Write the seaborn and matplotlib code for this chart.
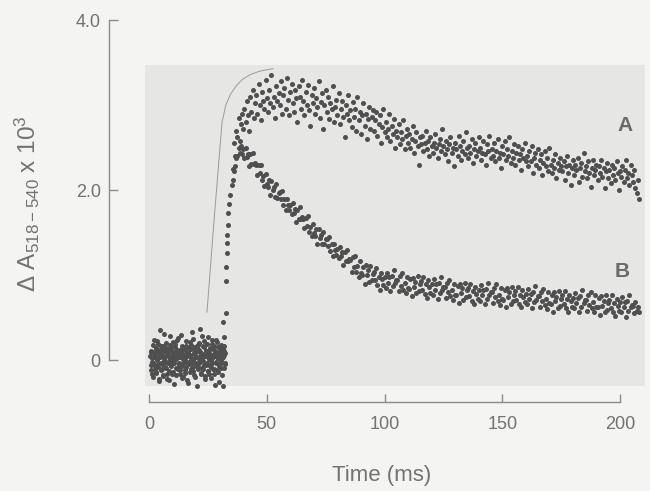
import numpy as np
import pandas as pd
import matplotlib
matplotlib.use("Agg")
import matplotlib.pyplot as plt
from matplotlib.patches import Rectangle
import seaborn as sns

# ---------------- data ----------------
# baseline before the flash, trace A (every 0.25 ms from 0.5 ms)
baseline_a = [
    0.05, -0.12, 0.10, -0.02, 0.18, -0.20, 0.03, 0.08, -0.07, 0.14,
    -0.15, 0.01, 0.22, -0.05, 0.09, -0.25, 0.12, 0.35, -0.03, 0.06,
    -0.10, 0.16, -0.18, 0.04, 0.00, -0.08, 0.20, 0.11, -0.22, 0.07,
    -0.04, 0.13, -0.13, 0.28, 0.02, -0.06, 0.15, -0.17, 0.09, -0.01,
    0.06, -0.28, 0.19, 0.03, -0.09, 0.10, 0.24, -0.11, 0.05, -0.03,
    0.12, -0.16, 0.08, 0.30, -0.07, 0.01, -0.20, 0.14, 0.04, -0.12,
    0.17, -0.02, 0.09, -0.24, 0.11, 0.06, -0.05, 0.21, -0.14, 0.02,
    0.13, -0.09, 0.25, 0.00, -0.18, 0.07, 0.15, -0.04, 0.10, -0.30,
    0.04, 0.18, -0.08, 0.12, -0.01, 0.36, -0.15, 0.08, 0.03, -0.11,
    0.16, -0.06, 0.22, -0.19, 0.05, 0.11, -0.03, 0.09, -0.13, 0.27,
    0.01, -0.07, 0.14, -0.21, 0.06, 0.19, -0.10, 0.04, 0.12, -0.16,
    0.08, -0.02, 0.23, -0.12, 0.03, 0.15, -0.26, 0.07, 0.10, -0.05,
    0.18, -0.09, 0.02, 0.13, -0.31, 0.06, 0.11, -0.04,
]
# baseline before the flash, trace B (every 0.25 ms from 0.625 ms)
baseline_b = [
    -0.06, 0.11, -0.17, 0.02, 0.09, -0.03, 0.24, -0.10, 0.05, -0.14,
    0.13, 0.00, -0.08, 0.19, -0.22, 0.07, 0.03, -0.12, 0.16, -0.05,
    0.08, -0.19, 0.12, 0.31, -0.02, 0.04, -0.09, 0.14, -0.16, 0.06,
    0.10, -0.01, -0.23, 0.18, 0.05, -0.07, 0.11, 0.02, -0.14, 0.21,
    -0.04, 0.08, 0.15, -0.18, 0.01, 0.12, -0.10, 0.26, -0.06, 0.03,
    -0.12, 0.09, 0.04, -0.21, 0.17, -0.03, 0.07, 0.13, -0.15, 0.00,
    0.22, -0.08, 0.05, -0.27, 0.10, 0.14, -0.02, 0.06, -0.11, 0.18,
    -0.05, 0.33, 0.01, -0.13, 0.08, -0.20, 0.12, 0.04, -0.07, 0.16,
    0.02, -0.10, 0.20, -0.04, 0.09, -0.16, 0.06, 0.28, -0.09, 0.03,
    -0.01, 0.15, -0.22, 0.07, 0.11, -0.06, 0.19, -0.13, 0.04, 0.08,
    -0.17, 0.13, 0.00, -0.08, 0.24, -0.03, 0.06, -0.11, 0.16, -0.29,
    0.05, 0.10, -0.04, 0.21, -0.14, 0.02, 0.09, -0.07, 0.14, -0.01,
    0.07, -0.18, 0.12, 0.03, -0.09, 0.17, -0.05, 0.08,
]

# rising phase (single dots)
rise_t = [31.6, 32.0, 32.6, 32.7, 32.7, 33.0, 33.1, 33.0, 33.5, 33.4, 34.1, 34.4, 35.1]
rise_v = [0.45, 0.27, 0.55, 0.93, 1.09, 1.26, 1.38, 1.47, 1.59, 1.73, 1.84, 1.94, 2.06]

# trace A, sampled every 0.5 ms from 35.5 ms
trace_a = [
    2.25, 2.55, 2.40, 2.70, 2.62, 2.85, 2.58, 2.78, 2.90, 2.72,
    2.95, 2.80, 3.05, 2.88, 2.70, 3.10, 2.92, 3.18, 2.85, 3.02,
    3.12, 2.90, 3.25, 3.00, 2.82, 3.15, 3.05, 2.95, 3.30, 3.08,
    2.92, 3.18, 3.02, 3.35, 2.98, 3.10, 2.85, 3.22, 3.05, 3.14,
    3.00, 3.28, 2.90, 3.12, 3.20, 2.95, 3.32, 3.06, 2.88, 3.15,
    3.25, 3.02, 2.92, 3.18, 3.08, 2.80, 3.22, 3.10, 2.96, 3.30,
    3.05, 2.88, 3.15, 3.00, 3.24, 2.94, 2.76, 3.12, 3.02, 3.20,
    2.90, 3.08, 2.98, 3.28, 2.85, 3.04, 3.14, 2.72, 3.00, 3.18,
    2.92, 3.10, 2.84, 3.02, 2.96, 3.22, 2.80, 2.98, 3.06, 2.88,
    3.14, 2.78, 2.95, 3.05, 2.86, 2.62, 3.00, 2.90, 3.12, 2.82,
    2.94, 2.74, 3.04, 2.86, 2.96, 2.70, 3.10, 2.82, 2.92, 2.66,
    2.88, 3.02, 2.76, 2.90, 2.60, 2.84, 2.98, 2.72, 2.86, 2.94,
    2.70, 2.82, 2.92, 2.64, 2.78, 2.88, 2.56, 2.74, 2.96, 2.68,
    2.80, 2.62, 2.72, 2.90, 2.58, 2.76, 2.66, 2.84, 2.50, 2.70,
    2.62, 2.78, 2.54, 2.68, 2.60, 2.82, 2.48, 2.64, 2.72, 2.56,
    2.66, 2.50, 2.60, 2.76, 2.44, 2.58, 2.68, 2.52, 2.30, 2.62,
    2.54, 2.64, 2.46, 2.56, 2.70, 2.48, 2.58, 2.40, 2.62, 2.52,
    2.44, 2.56, 2.66, 2.50, 2.38, 2.54, 2.60, 2.46, 2.72, 2.52,
    2.42, 2.58, 2.48, 2.34, 2.54, 2.62, 2.44, 2.50, 2.28, 2.56,
    2.48, 2.40, 2.64, 2.52, 2.36, 2.46, 2.58, 2.42, 2.68, 2.50,
    2.38, 2.52, 2.44, 2.60, 2.32, 2.48, 2.56, 2.40, 2.46, 2.62,
    2.50, 2.36, 2.44, 2.58, 2.42, 2.30, 2.54, 2.46, 2.64, 2.38,
    2.48, 2.40, 2.56, 2.34, 2.46, 2.60, 2.38, 2.44, 2.26, 2.52,
    2.42, 2.58, 2.36, 2.48, 2.40, 2.62, 2.32, 2.46, 2.38, 2.54,
    2.30, 2.44, 2.52, 2.36, 2.42, 2.24, 2.48, 2.38, 2.56, 2.34,
    2.40, 2.28, 2.46, 2.34, 2.52, 2.20, 2.38, 2.44, 2.30, 2.48,
    2.26, 2.36, 2.42, 2.18, 2.32, 2.46, 2.28, 2.38, 2.22, 2.50,
    2.30, 2.20, 2.36, 2.26, 2.42, 2.14, 2.32, 2.24, 2.38, 2.28,
    2.22, 2.34, 2.12, 2.28, 2.40, 2.20, 2.30, 2.06, 2.26, 2.36,
    2.18, 2.30, 2.24, 2.38, 2.10, 2.26, 2.32, 2.16, 2.44, 2.22,
    2.28, 2.14, 2.34, 2.20, 2.04, 2.26, 2.36, 2.18, 2.24, 2.30,
    2.12, 2.28, 2.20, 2.36, 2.16, 2.26, 2.02, 2.22, 2.32, 2.14,
    2.24, 2.08, 2.30, 2.18, 2.26, 2.12, 2.34, 2.20, 2.00, 2.22,
    2.16, 2.28, 2.10, 2.24, 2.36, 2.14, 2.20, 2.06, 2.30, 2.18,
    2.10, 2.24, 2.02, 1.96, 2.12, 1.90,
]

# trace B, sampled every 0.5 ms from 35.5 ms
trace_b = [
    2.12, 2.22, 2.28, 2.38, 2.40, 2.50, 2.44, 2.52, 2.42, 2.48,
    2.38, 2.50, 2.39, 2.43, 2.28, 2.42, 2.31, 2.44, 2.31, 2.32,
    2.30, 2.18, 2.30, 2.20, 2.30, 2.12, 2.17, 2.05, 2.19, 2.07,
    2.04, 2.12, 1.94, 2.11, 2.00, 2.04, 1.92, 2.07, 1.91, 1.97,
    1.98, 1.89, 1.99, 1.82, 1.89, 1.76, 1.90, 1.83, 1.76, 1.83,
    1.72, 1.85, 1.73, 1.78, 1.63, 1.77, 1.66, 1.80, 1.66, 1.68,
    1.66, 1.55, 1.67, 1.58, 1.69, 1.51, 1.57, 1.46, 1.60, 1.49,
    1.46, 1.54, 1.37, 1.54, 1.44, 1.47, 1.36, 1.51, 1.36, 1.42,
    1.43, 1.34, 1.45, 1.28, 1.36, 1.22, 1.37, 1.30, 1.24, 1.31,
    1.20, 1.33, 1.22, 1.27, 1.12, 1.27, 1.16, 1.30, 1.17, 1.19,
    1.18, 1.04, 1.21, 1.09, 1.23, 1.04, 1.11, 0.98, 1.17, 1.03,
    1.00, 1.10, 0.90, 1.12, 1.00, 1.06, 0.92, 1.11, 0.94, 1.01,
    1.04, 0.94, 1.08, 0.88, 0.98, 0.83, 1.03, 0.95, 0.88, 0.98,
    0.85, 1.03, 0.91, 0.98, 0.81, 0.99, 0.87, 1.06, 0.91, 0.94,
    0.94, 0.81, 0.99, 0.87, 1.02, 0.83, 0.91, 0.79, 0.98, 0.85,
    0.84, 0.95, 0.75, 0.97, 0.86, 0.92, 0.79, 0.99, 0.81, 0.89,
    0.93, 0.83, 0.98, 0.78, 0.89, 0.73, 0.94, 0.86, 0.79, 0.89,
    0.77, 0.95, 0.83, 0.89, 0.72, 0.91, 0.79, 0.98, 0.82, 0.86,
    0.86, 0.73, 0.91, 0.80, 0.94, 0.75, 0.83, 0.71, 0.90, 0.77,
    0.76, 0.87, 0.67, 0.90, 0.79, 0.85, 0.71, 0.91, 0.74, 0.82,
    0.85, 0.75, 0.90, 0.70, 0.81, 0.66, 0.86, 0.78, 0.72, 0.82,
    0.70, 0.88, 0.76, 0.83, 0.66, 0.84, 0.72, 0.91, 0.76, 0.80,
    0.80, 0.67, 0.85, 0.74, 0.89, 0.70, 0.77, 0.65, 0.85, 0.72,
    0.71, 0.82, 0.62, 0.85, 0.74, 0.80, 0.66, 0.86, 0.69, 0.77,
    0.81, 0.71, 0.86, 0.66, 0.77, 0.62, 0.82, 0.74, 0.68, 0.78,
    0.66, 0.84, 0.72, 0.78, 0.61, 0.80, 0.68, 0.87, 0.71, 0.75,
    0.75, 0.62, 0.80, 0.69, 0.84, 0.65, 0.72, 0.60, 0.80, 0.67,
    0.66, 0.77, 0.57, 0.80, 0.69, 0.74, 0.61, 0.81, 0.64, 0.72,
    0.76, 0.66, 0.81, 0.61, 0.72, 0.57, 0.77, 0.69, 0.63, 0.73,
    0.61, 0.79, 0.67, 0.73, 0.56, 0.75, 0.63, 0.82, 0.67, 0.71,
    0.71, 0.58, 0.76, 0.65, 0.80, 0.61, 0.68, 0.56, 0.76, 0.63,
    0.62, 0.73, 0.53, 0.75, 0.64, 0.69, 0.56, 0.76, 0.59, 0.67,
    0.71, 0.61, 0.76, 0.56, 0.67, 0.52, 0.72, 0.64, 0.58, 0.68,
    0.56, 0.74, 0.62, 0.68, 0.51, 0.70, 0.58, 0.77, 0.62, 0.65,
    0.64, 0.55, 0.68, 0.58, 0.62, 0.56,
]

# thin guide curve seen in the original
curve_t = [24.6, 27.8, 31.0, 32.6, 34.4, 36.8, 39.5, 43.0, 47.0, 52.7]
curve_v = [0.56, 1.71, 2.80, 3.00, 3.12, 3.22, 3.30, 3.36, 3.40, 3.43]

x_ticks = [0, 50, 100, 150, 200]
y_ticks = [0, 2, 4]
y_tick_labels = ["0", "2.0", "4.0"]
series_names = ["A", "B"]

# ---------------- frames ----------------
base_a_t = 0.5 + 0.25 * np.arange(len(baseline_a))
base_b_t = 0.625 + 0.25 * np.arange(len(baseline_b))
a_t = 35.5 + 0.5 * np.arange(len(trace_a))
b_t = 35.5 + 0.5 * np.arange(len(trace_b))

df = pd.concat([
    pd.DataFrame({"time": base_a_t, "value": baseline_a, "trace": "A"}),
    pd.DataFrame({"time": base_b_t, "value": baseline_b, "trace": "B"}),
    pd.DataFrame({"time": rise_t, "value": rise_v, "trace": "B"}),
    pd.DataFrame({"time": a_t, "value": trace_a, "trace": "A"}),
    pd.DataFrame({"time": b_t, "value": trace_b, "trace": "B"}),
], ignore_index=True)
curve_df = pd.DataFrame({"time": curve_t, "value": curve_v})

# ---------------- style ----------------
sns.set_style("white")
plt.rcParams["font.family"] = ["Liberation Sans", "DejaVu Sans"]
plt.rcParams["mathtext.default"] = "regular"

BG = "#f4f4f3"
PANEL = "#e6e6e5"
DOT = "#4f4f4f"
AXC = "#8a8a8a"
TXT = "#727272"

fig = plt.figure(figsize=(6.5, 4.91), dpi=100, facecolor=BG)
ax = fig.add_axes([109 / 650, 1 - 402 / 491, 536 / 650, 382 / 491])
ax.set_facecolor("none")
ax.set_xlim(-17, 210.6)
ax.set_ylim(-0.494, 4.002)

ax.add_patch(Rectangle((-1.7, -0.31), 212.3, 3.78, facecolor=PANEL,
                       edgecolor="none", zorder=0))

sns.lineplot(data=curve_df, x="time", y="value", ax=ax, color="#9a9a9a",
             linewidth=0.7, sort=False, estimator=None, zorder=1)
sns.scatterplot(data=df, x="time", y="value", ax=ax, color=DOT, s=13,
                linewidth=0, legend=False, zorder=2)

ax.text(202, 2.76, series_names[0], fontsize=15, fontweight="bold",
        color="#6a6a6a", ha="center", va="center")
ax.text(201, 1.04, series_names[1], fontsize=15, fontweight="bold",
        color="#6a6a6a", ha="center", va="center")

for side in ["top", "right"]:
    ax.spines[side].set_visible(False)
for side in ["left", "bottom"]:
    ax.spines[side].set_color(AXC)
    ax.spines[side].set_linewidth(1.0)
ax.spines["left"].set_bounds(0, 4)
ax.spines["bottom"].set_bounds(0, 200)

ax.set_xticks(x_ticks)
ax.set_xticklabels([str(v) for v in x_ticks])
ax.set_yticks(y_ticks)
ax.set_yticklabels(y_tick_labels)
ax.tick_params(axis="both", direction="in", color=AXC, labelcolor=TXT,
               labelsize=13, width=1.0, bottom=True, left=True)
ax.tick_params(axis="x", length=5.5, pad=10)
ax.tick_params(axis="y", length=6.5, pad=6)

ax.set_xlabel("Time (ms)", fontsize=16, color=TXT)
ax.xaxis.set_label_coords(0.509, -0.165)
ax.xaxis.label.set_va("top")
ax.set_ylabel(r"$\Delta$ A$_{518 - 540}$ x 10$^{3}$", fontsize=17.5, color=TXT)
ax.yaxis.set_label_coords(-0.125, 0.52)

fig.savefig("out.png", dpi=100, facecolor=BG)
